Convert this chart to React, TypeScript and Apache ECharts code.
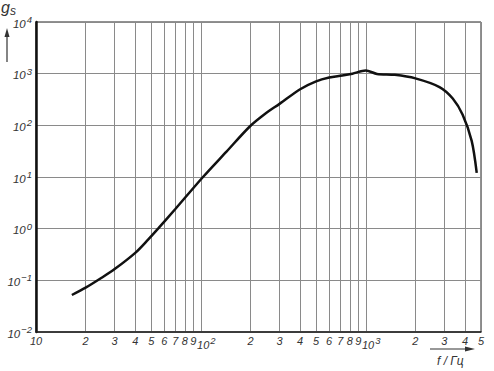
import React, { useEffect, useRef } from 'react';
import * as echarts from 'echarts';

// frequency f, Hz
const freqHz = [16.5, 20, 25, 30, 40, 48, 55, 70, 103, 143, 198, 250, 300, 400, 500, 600, 720, 830, 1000, 1170, 1500, 2000, 2800, 3370, 3870, 4390, 4710];
// g_s values
const gsValues = [0.052, 0.072, 0.112, 0.165, 0.34, 0.62, 1.0, 2.4, 10, 31, 95, 175, 260, 500, 710, 840, 920, 1000, 1150, 990, 950, 810, 550, 330, 160, 50, 12];
// x tick positions (Hz)
const xTickHz = [10, 20, 30, 40, 50, 60, 70, 80, 90, 100, 200, 300, 400, 500, 600, 700, 800, 900, 1000, 2000, 3000, 4000, 5000];
// y decade exponents
const yExponents = [-2, -1, 0, 1, 2, 3, 4];

const FONT = "'Liberation Sans Narrow', 'Liberation Sans', sans-serif";

export default function App() {
  const ref = useRef<HTMLDivElement>(null);
  useEffect(() => {
    const chart = echarts.init(ref.current!, null, { renderer: 'svg' });
    const xTicks = xTickHz.map((v) => Math.log10(v));
    const data = freqHz.map((f, i) => [Math.log10(f), Math.log10(gsValues[i])]);
    const xMin = Math.log10(10);
    const xMax = Math.log10(5000);
    const supRich = {
      b: { fontSize: 11.5, fontStyle: 'italic', fontFamily: FONT, color: '#333', lineHeight: 15, verticalAlign: 'bottom' },
      bx: { fontSize: 11, fontStyle: 'italic', fontFamily: FONT, color: '#333', lineHeight: 15, verticalAlign: 'bottom', padding: [0, 0, 0, 11] },
      s: { fontSize: 9.5, fontStyle: 'italic', fontFamily: FONT, color: '#333', lineHeight: 15, verticalAlign: 'top', padding: [0, 0, 0, 1] },
    };
    chart.setOption({
      animation: false,
      grid: { left: 36, right: 13, top: 22, bottom: 39, show: true, borderColor: '#222', borderWidth: 1 },
      xAxis: {
        type: 'value',
        min: xMin,
        max: xMax,
        axisLine: { show: true, onZero: false, lineStyle: { color: '#222', width: 1.5 } },
        axisTick: { show: false, customValues: xTicks },
        splitLine: { show: true, lineStyle: { color: '#8a8a8a', width: 1 } },
        axisLabel: {
          customValues: xTicks,
          margin: 3,
          fontSize: 11,
          fontStyle: 'italic',
          fontFamily: FONT,
          color: '#333',
          showMinLabel: true,
          showMaxLabel: true,
          hideOverlap: false,
          rich: supRich,
          formatter: (v: number) => {
            const f = Math.round(Math.pow(10, v));
            if (f === 10) return '10';
            if (f === 100) return '{bx|10}{s|2}';
            if (f === 1000) return '{bx|10}{s|3}';
            const p = Math.pow(10, Math.floor(Math.log10(f) + 1e-9));
            return String(Math.round(f / p));
          },
        },
      },
      yAxis: {
        type: 'value',
        min: -2,
        max: 4,
        interval: 1,
        axisLine: { show: true, onZero: false, lineStyle: { color: '#111', width: 2.5 } },
        axisTick: { show: false },
        splitLine: { show: true, lineStyle: { color: '#8a8a8a', width: 1 } },
        axisLabel: {
          margin: 4,
          rich: supRich,
          formatter: (v: number) => {
            const e = Math.round(v);
            if (!yExponents.includes(e)) return '';
            const exp = e < 0 ? '\u2212' + Math.abs(e) : String(e);
            return '{b|10}{s|' + exp + '}';
          },
        },
      },
      series: [
        {
          type: 'line',
          data,
          smooth: 0.3,
          showSymbol: false,
          lineStyle: { color: '#111', width: 2.5 },
        },
      ],
      graphic: [
        { type: 'text', left: 1, top: -1, style: { text: 'g', fontSize: 16, fontStyle: 'italic', fontFamily: FONT, fill: '#333' } },
        { type: 'text', left: 10, top: 5, style: { text: 's', fontSize: 12, fontStyle: 'italic', fontFamily: FONT, fill: '#333' } },
        { type: 'line', shape: { x1: 7, y1: 62, x2: 7, y2: 34 }, style: { stroke: '#333', lineWidth: 1.2 } },
        { type: 'polygon', shape: { points: [[4.5, 37], [7, 28], [9.5, 37]] }, style: { fill: '#333' } },
        { type: 'line', shape: { x1: 430, y1: 349, x2: 468, y2: 349 }, style: { stroke: '#333', lineWidth: 1.2 } },
        { type: 'polygon', shape: { points: [[465, 346.5], [475, 349], [465, 351.5]] }, style: { fill: '#333' } },
        { type: 'text', left: 437, top: 355, style: { text: 'f / Гц', fontSize: 12, fontStyle: 'italic', fontFamily: FONT, fill: '#333' } },
      ],
    });
    return () => chart.dispose();
  }, []);
  return <div ref={ref} style={{ position: 'absolute', left: 0, top: 0, width: 494, height: 371 }} />;
}
